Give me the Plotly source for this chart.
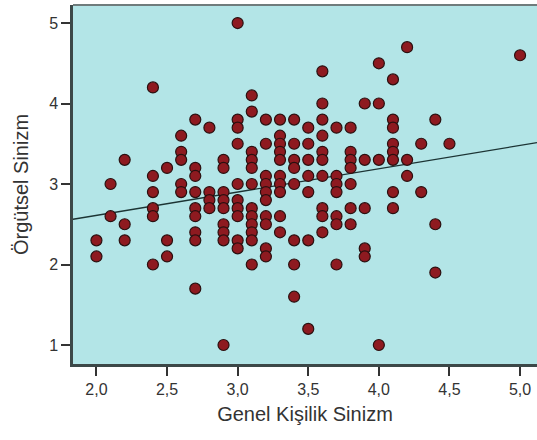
import plotly.graph_objects as go

# Data (x = Genel Kişilik Sinizm, y = Örgütsel Sinizm)
col_x = [2.0, 2.1, 2.2, 2.4, 2.5, 2.6, 2.7, 2.8, 2.9, 3.0, 3.1, 3.2, 3.3, 3.4,
         3.5, 3.6, 3.7, 3.8, 3.9, 4.0, 4.1, 4.2, 4.3, 4.4, 4.5, 5.0]
col_y = [
    [2.3, 2.1],
    [3.0, 2.6],
    [3.3, 2.5, 2.3],
    [4.2, 3.1, 2.9, 2.7, 2.6, 2.0],
    [3.2, 2.3, 2.1],
    [3.6, 3.4, 3.3, 3.0, 2.9],
    [3.8, 3.2, 3.1, 2.9, 2.7, 2.6, 2.4, 2.3, 1.7],
    [3.7, 2.9, 2.8, 2.7],
    [3.3, 3.2, 2.9, 2.8, 2.7, 2.5, 2.4, 2.3, 1.0],
    [5.0, 3.8, 3.7, 3.5, 3.0, 2.8, 2.7, 2.6, 2.3, 2.2],
    [4.1, 3.9, 3.4, 3.3, 3.2, 3.0, 2.7, 2.6, 2.5, 2.4, 2.3, 2.0],
    [3.8, 3.5, 3.1, 3.0, 2.9, 2.8, 2.6, 2.5, 2.2, 2.1],
    [3.8, 3.6, 3.5, 3.4, 3.3, 3.1, 3.0, 2.9, 2.6, 2.4],
    [3.8, 3.5, 3.3, 3.2, 3.0, 2.3, 2.0, 1.6],
    [3.7, 3.5, 3.3, 3.1, 2.9, 2.3, 1.2],
    [4.4, 4.0, 3.8, 3.6, 3.4, 3.3, 3.1, 2.7, 2.6, 2.4],
    [3.7, 3.1, 3.0, 2.9, 2.6, 2.5, 2.0],
    [3.7, 3.4, 3.3, 3.2, 3.0, 2.7, 2.5],
    [4.0, 3.3, 2.7, 2.2, 2.1],
    [4.5, 4.0, 3.3, 1.0],
    [4.3, 3.8, 3.7, 3.5, 3.4, 3.3, 2.9, 2.7],
    [4.7, 3.3, 3.1],
    [3.5, 2.9],
    [3.8, 2.5, 1.9],
    [3.5],
    [4.6],
]

# Fit line
fit_intercept = 2.03
fit_slope = 0.29

x_range = [1.834, 5.12]
y_range = [0.764, 5.224]
x_ticks = [2.0, 2.5, 3.0, 3.5, 4.0, 4.5, 5.0]
x_tick_labels = ["2,0", "2,5", "3,0", "3,5", "4,0", "4,5", "5,0"]
y_ticks = [1, 2, 3, 4, 5]
y_tick_labels = ["1", "2", "3", "4", "5"]

xs, ys = [], []
for cx, yl in zip(col_x, col_y):
    for yv in yl:
        xs.append(cx)
        ys.append(yv)

fig = go.Figure()
fig.add_trace(go.Scatter(
    x=x_range,
    y=[fit_intercept + fit_slope * v for v in x_range],
    mode="lines",
    line=dict(color="#1c3434", width=1.3),
    hoverinfo="skip",
    showlegend=False,
))
fig.add_trace(go.Scatter(
    x=xs, y=ys, mode="markers",
    marker=dict(size=11, color="#8e1a20", line=dict(color="#2a1010", width=1.2)),
    showlegend=False,
))

font_family = "Liberation Sans, Arial, sans-serif"
fig.update_layout(
    width=537, height=440,
    margin=dict(l=73, r=0, t=5, b=76, autoexpand=False),
    paper_bgcolor="white",
    plot_bgcolor="#b3e5e7",
    font=dict(family=font_family, size=16, color="#333333"),
    showlegend=False,
    shapes=[dict(type="line", xref="paper", yref="paper", x0=0, x1=1, y0=1, y1=1,
                 line=dict(color="#6f7c7c", width=2))],
    xaxis=dict(
        range=x_range, tickvals=x_ticks, ticktext=x_tick_labels,
        showgrid=False, zeroline=False, automargin=False,
        showline=True, linecolor="#3c4848", linewidth=2.5,
        ticks="outside", ticklen=9, tickwidth=2, tickcolor="#333333",
        tickfont=dict(size=16, color="#333333"),
        title=dict(text="Genel Kişilik Sinizm", font=dict(size=20, color="#333333"), standoff=11),
    ),
    yaxis=dict(
        range=y_range, tickvals=y_ticks, ticktext=y_tick_labels,
        showgrid=False, zeroline=False, automargin=False,
        showline=True, linecolor="#3c4848", linewidth=2.5,
        ticks="outside", ticklen=9, tickwidth=1.5, tickcolor="#333333",
        tickfont=dict(size=16, color="#333333"),
        title=dict(text="Örgütsel Sinizm", font=dict(size=20, color="#333333"), standoff=16),
    ),
)

fig.write_html(
    "out.html",
    config={"displayModeBar": False},
    post_script="document.body.style.margin='0';document.body.style.padding='0';",
)
